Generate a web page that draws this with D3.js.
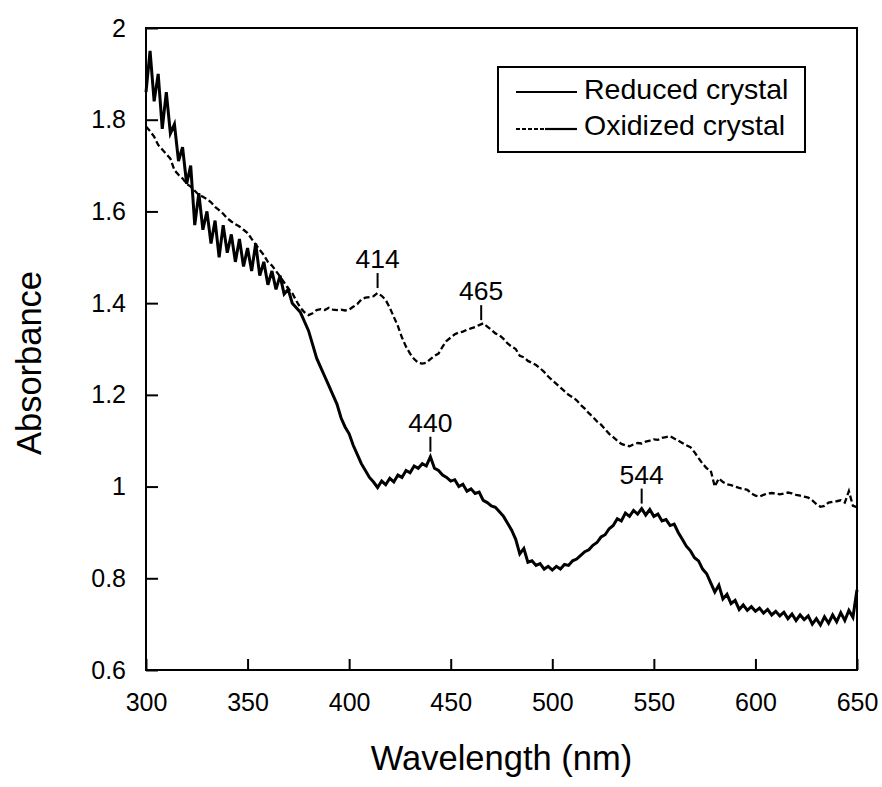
<!DOCTYPE html>
<html>
<head>
<meta charset="utf-8">
<script src="https://cdn.jsdelivr.net/npm/d3@7"></script>
<style>
  html, body { margin: 0; padding: 0; background: #fff; }
  svg { display: block; font-family: "Liberation Sans", Arial, Helvetica, sans-serif; }
</style>
</head>
<body>
<svg id="chart" width="882" height="787"></svg>
<script>
// ---------------- DATA ----------------
const xTicks = [300, 350, 400, 450, 500, 550, 600, 650];
const yTicks = [0.6, 0.8, 1, 1.2, 1.4, 1.6, 1.8, 2];
const yTickLabels = ["0.6", "0.8", "1", "1.2", "1.4", "1.6", "1.8", "2"];

const seriesNames = ["Reduced crystal", "Oxidized crystal"];

// Reduced crystal: absorbance sampled every 2 nm from 300 nm
const reducedStart = 300, reducedStep = 2;
const reducedValues = [
  1.86, 1.95, 1.84, 1.90, 1.78, 1.86, 1.77, 1.79, 1.71, 1.74,
  1.66, 1.70, 1.57, 1.64, 1.56, 1.60, 1.53, 1.58, 1.50, 1.57,
  1.51, 1.55, 1.49, 1.54, 1.48, 1.52, 1.47, 1.53, 1.46, 1.49,
  1.44, 1.47, 1.43, 1.46, 1.42, 1.43, 1.40, 1.39, 1.38, 1.36,
  1.34, 1.31, 1.28, 1.26, 1.24, 1.22, 1.20, 1.18, 1.15, 1.13,
  1.115, 1.09, 1.07, 1.05, 1.035, 1.02, 1.01, 0.998, 1.012, 1.004,
  1.018, 1.01, 1.025, 1.02, 1.035, 1.03, 1.045, 1.04, 1.05, 1.045,
  1.065, 1.04, 1.035, 1.025, 1.02, 1.012, 1.015, 1.0, 1.005, 0.99,
  0.995, 0.985, 0.988, 0.97, 0.965, 0.958, 0.955, 0.945, 0.935, 0.92,
  0.905, 0.885, 0.853, 0.865, 0.835, 0.838, 0.828, 0.832, 0.82, 0.826,
  0.818, 0.826, 0.82, 0.83, 0.828, 0.838, 0.842, 0.85, 0.858, 0.862,
  0.872, 0.878, 0.89, 0.895, 0.908, 0.915, 0.93, 0.925, 0.942, 0.935,
  0.948, 0.94, 0.952, 0.938, 0.95, 0.935, 0.94, 0.925, 0.928, 0.915,
  0.918, 0.9, 0.885, 0.87, 0.86, 0.845, 0.838, 0.82, 0.81, 0.79,
  0.77, 0.785, 0.755, 0.765, 0.745, 0.752, 0.732, 0.742, 0.73, 0.738,
  0.728, 0.735, 0.724, 0.732, 0.72, 0.728, 0.718, 0.726, 0.712, 0.722,
  0.708, 0.72, 0.71, 0.718, 0.70, 0.712, 0.698, 0.716, 0.702, 0.72,
  0.705, 0.725, 0.708, 0.73, 0.715, 0.775
];

// Oxidized crystal: wavelength / absorbance pairs
const oxidizedWavelengths = [
  300, 302, 304, 306, 308, 310, 312, 314, 316, 318, 320, 322, 324, 326, 328, 330,
  332, 334, 336, 338, 340, 342, 344, 346, 348, 350, 352, 354, 356, 358, 360, 362,
  364, 366, 368, 370, 372, 374, 376, 378, 380, 382, 384, 386, 388, 390, 392, 394,
  396, 398, 400, 402, 404, 406, 408, 410, 412, 414, 416, 418, 420, 422, 424, 426,
  428, 430, 432, 434, 436, 438, 440, 442, 444, 446, 448, 450, 452, 454, 456, 458,
  460, 462, 464, 466, 468, 470, 472, 474, 476, 478, 480, 482, 484, 486, 488, 490,
  492, 494, 496, 498, 500, 502, 504, 506, 508, 510, 512, 514, 516, 518, 520, 522,
  524, 526, 528, 530, 532, 534, 536, 538, 540, 542, 544, 546, 548, 550, 552, 554,
  556, 558, 560, 562, 564, 566, 568, 570, 572, 574, 576, 578, 580, 582, 584, 586,
  588, 590, 592, 594, 596, 598, 600, 602, 604, 606, 608, 610, 612, 614, 616, 618,
  620, 622, 624, 626, 628, 630, 632, 634, 636, 638, 640, 642, 644, 646, 648, 650
];
const oxidizedValues = [
  1.785, 1.775, 1.763, 1.745, 1.735, 1.725, 1.715, 1.69, 1.68, 1.672, 1.66, 1.654, 1.645, 1.636, 1.632, 1.627,
  1.62, 1.61, 1.603, 1.595, 1.585, 1.578, 1.572, 1.567, 1.56, 1.553, 1.54, 1.528, 1.516, 1.505, 1.49, 1.482,
  1.47, 1.458, 1.445, 1.432, 1.422, 1.405, 1.39, 1.38, 1.374, 1.378, 1.385, 1.387, 1.385, 1.39, 1.386, 1.385,
  1.386, 1.384, 1.386, 1.392, 1.398, 1.408, 1.412, 1.413, 1.415, 1.422, 1.416, 1.407, 1.39, 1.37, 1.35, 1.325,
  1.305, 1.29, 1.278, 1.27, 1.268, 1.27, 1.278, 1.285, 1.29, 1.305, 1.318, 1.325, 1.332, 1.336, 1.338, 1.342,
  1.345, 1.348, 1.352, 1.356, 1.349, 1.342, 1.334, 1.33, 1.322, 1.312, 1.305, 1.30, 1.285, 1.282, 1.274, 1.27,
  1.265, 1.258, 1.25, 1.24, 1.232, 1.224, 1.216, 1.208, 1.20, 1.195, 1.188, 1.178, 1.17, 1.16, 1.152, 1.142,
  1.135, 1.125, 1.115, 1.108, 1.10, 1.093, 1.09, 1.088, 1.092, 1.095, 1.094, 1.098, 1.10, 1.103, 1.102, 1.106,
  1.108, 1.11, 1.105, 1.10, 1.095, 1.09, 1.086, 1.075, 1.062, 1.05, 1.04, 1.035, 1.0, 1.018, 1.01, 1.005,
  1.003, 1.0, 0.997, 0.995, 0.993, 0.985, 0.98, 0.978, 0.982, 0.985, 0.986, 0.985, 0.983, 0.985, 0.987, 0.985,
  0.982, 0.98, 0.978, 0.976, 0.97, 0.962, 0.956, 0.958, 0.965, 0.967, 0.968, 0.97, 0.965, 0.99, 0.958, 0.955
];

// Peak annotations: wavelength, series
const peakWavelengths = [414, 465, 440, 544];
const peakSeries = ["Oxidized crystal", "Oxidized crystal", "Reduced crystal", "Reduced crystal"];

// ---------------- LAYOUT ----------------
const svg = d3.select("#chart");
const plot = { left: 146, top: 28, right: 857, bottom: 670 };

const x = d3.scaleLinear().domain([300, 650]).range([plot.left, plot.right]);
const y = d3.scaleLinear().domain([0.6, 2]).range([plot.bottom, plot.top]);

const reduced = reducedValues.map((v, i) => ({ w: reducedStart + i * reducedStep, v }));
const oxidized = oxidizedWavelengths.map((w, i) => ({ w, v: oxidizedValues[i] }));

const line = d3.line().x(d => x(d.w)).y(d => y(d.v));

// curves
svg.append("path").datum(oxidized)
  .attr("d", line).attr("fill", "none")
  .attr("stroke", "#000").attr("stroke-width", 2.3)
  .attr("stroke-dasharray", "6,3");

svg.append("path").datum(reduced)
  .attr("d", line).attr("fill", "none")
  .attr("stroke", "#000").attr("stroke-width", 3)
  .attr("stroke-linejoin", "miter");

// frame
svg.append("rect")
  .attr("x", plot.left).attr("y", plot.top)
  .attr("width", plot.right - plot.left).attr("height", plot.bottom - plot.top)
  .attr("fill", "none").attr("stroke", "#000").attr("stroke-width", 2);

// axes with inward ticks
const xAxis = d3.axisBottom(x).tickValues(xTicks).tickSize(-11).tickPadding(23).tickFormat(d3.format("d"));
const gx = svg.append("g").attr("transform", `translate(0,${plot.bottom})`).call(xAxis);
gx.select(".domain").remove();
gx.selectAll(".tick line").attr("stroke", "#000").attr("stroke-width", 2);
gx.selectAll(".tick text").attr("font-size", 25).attr("fill", "#000")
  .attr("font-family", "Liberation Sans, Arial, sans-serif");

const yAxis = d3.axisLeft(y).tickValues(yTicks).tickSize(-12).tickPadding(20)
  .tickFormat((d, i) => yTickLabels[i]);
const gy = svg.append("g").attr("transform", `translate(${plot.left},0)`).call(yAxis);
gy.select(".domain").remove();
gy.selectAll(".tick line").attr("stroke", "#000").attr("stroke-width", 2);
gy.selectAll(".tick text").attr("font-size", 25).attr("fill", "#000")
  .attr("font-family", "Liberation Sans, Arial, sans-serif");

// axis titles
svg.append("text")
  .attr("x", (plot.left + plot.right) / 2).attr("y", 770)
  .attr("text-anchor", "middle").attr("font-size", 34.5).attr("fill", "#000")
  .text("Wavelength (nm)");

svg.append("text")
  .attr("transform", `translate(41,${363}) rotate(-90)`)
  .attr("text-anchor", "middle").attr("font-size", 34.5).attr("fill", "#000")
  .text("Absorbance");

// peak annotations
peakWavelengths.forEach((w, i) => {
  const data = peakSeries[i] === "Reduced crystal" ? reduced : oxidized;
  const near = data.reduce((a, b) => Math.abs(b.w - w) < Math.abs(a.w - w) ? b : a);
  const yPeak = y(near.v);
  const xp = x(w);
  svg.append("line")
    .attr("x1", xp).attr("x2", xp)
    .attr("y1", yPeak - 20).attr("y2", yPeak - 5)
    .attr("stroke", "#000").attr("stroke-width", 2);
  svg.append("text")
    .attr("x", xp).attr("y", yPeak - 25)
    .attr("text-anchor", "middle").attr("font-size", 26.5).attr("fill", "#000")
    .text(String(w));
});

// legend
const lg = svg.append("g");
lg.append("rect").attr("x", 498).attr("y", 67).attr("width", 307).attr("height", 85)
  .attr("fill", "#fff").attr("stroke", "#000").attr("stroke-width", 2);
lg.append("line").attr("x1", 516).attr("x2", 577).attr("y1", 92).attr("y2", 92)
  .attr("stroke", "#000").attr("stroke-width", 2.2);
lg.append("line").attr("x1", 516).attr("x2", 545).attr("y1", 129).attr("y2", 129)
  .attr("stroke", "#000").attr("stroke-width", 2).attr("stroke-dasharray", "4,2");
lg.append("line").attr("x1", 545).attr("x2", 577).attr("y1", 129).attr("y2", 129)
  .attr("stroke", "#000").attr("stroke-width", 2.2);
lg.selectAll("text.leg").data(seriesNames).enter().append("text")
  .attr("class", "leg")
  .attr("x", 584).attr("y", (d, i) => 99 + i * 36)
  .attr("font-size", 28.5).attr("fill", "#000")
  .text(d => d);
</script>
</body>
</html>
